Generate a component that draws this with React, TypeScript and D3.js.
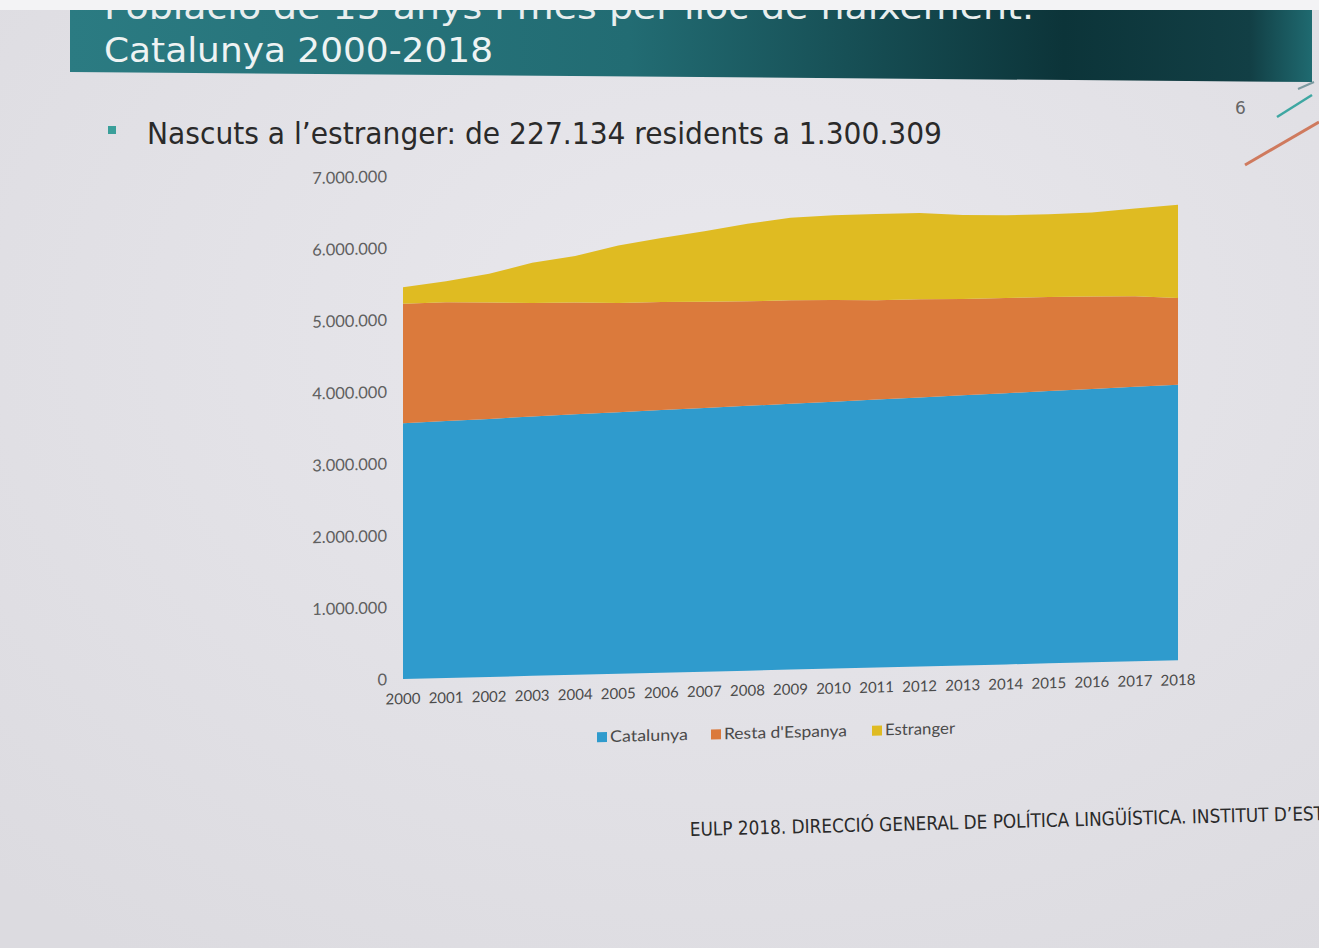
import React from 'react';
import * as d3 from 'd3';

const years = [2000, 2001, 2002, 2003, 2004, 2005, 2006, 2007, 2008, 2009, 2010, 2011, 2012, 2013, 2014, 2015, 2016, 2017, 2018];
const catalunya = [3560000, 3575000, 3590000, 3610000, 3625000, 3640000, 3655000, 3670000, 3685000, 3700000, 3715000, 3730000, 3745000, 3760000, 3775000, 3790000, 3805000, 3820000, 3835000];
const restaEspanya = [1663000, 1655000, 1620000, 1580000, 1555000, 1520000, 1505000, 1480000, 1455000, 1440000, 1415000, 1380000, 1365000, 1340000, 1325000, 1310000, 1285000, 1260000, 1205000];
const estranger = [227134, 290000, 400000, 560000, 650000, 800000, 890000, 980000, 1080000, 1150000, 1180000, 1200000, 1200000, 1170000, 1150000, 1150000, 1170000, 1220000, 1300309];
const seriesKeys = ['Catalunya', "Resta d'Espanya", 'Estranger'];
const seriesColors = ['#2f9bcd', '#db7a3c', '#dfbb22'];
const yTicks = [0, 1000000, 2000000, 3000000, 4000000, 5000000, 6000000, 7000000];

const titleTop = 'Població de 15 anys i més per lloc de naixement.';
const titleMain = 'Catalunya 2000-2018';
const bulletText = 'Nascuts a l\u2019estranger: de 227.134 residents a 1.300.309';
const footerText = 'EULP 2018. DIRECCIÓ GENERAL DE POLÍTICA LINGÜÍSTICA. INSTITUT D\u2019ESTADÍSTICA';

export default function App() {
  const W = 1319;
  const H = 948;
  const x = d3.scalePoint<string>().domain(years.map(String)).range([403, 1178]);
  const y = d3.scaleLinear().domain([0, 7000000]).range([679, 176]);
  const table = years.map((yr, i) => ({
    year: String(yr),
    Catalunya: catalunya[i],
    "Resta d'Espanya": restaEspanya[i],
    Estranger: estranger[i],
  }));
  const stacked = d3.stack<any>().keys(seriesKeys)(table);
  const area = d3
    .area<any>()
    .x((d) => x(d.data.year) as number)
    .y0((d) => y(d[0]))
    .y1((d) => y(d[1]));
  const fmt = (v: number) => d3.format(',')(v).replace(/,/g, '.');
  const k = 19 / 785;
  const skew = `matrix(1 ${-k} 0 1 0 ${k * 403})`;

  const slideFont = "'DejaVu Sans', sans-serif";
  const chartFont = "Lato, 'Open Sans', sans-serif";

  const legendItems = [
    { key: seriesKeys[0], x: 597, color: seriesColors[0], len: 78 },
    { key: seriesKeys[1], x: 711, color: seriesColors[1], len: 123 },
    { key: seriesKeys[2], x: 872, color: seriesColors[2], len: 70 },
  ];

  return (
    <svg width={W} height={H} style={{ position: 'absolute', left: 0, top: 0 }}>
      <defs>
        <linearGradient id="hdr" x1="0" x2="1" y1="0" y2="0">
          <stop offset="0" stopColor="#2b7b82" />
          <stop offset="0.45" stopColor="#226c73" />
          <stop offset="0.8" stopColor="#0c3439" />
          <stop offset="0.95" stopColor="#123f45" />
          <stop offset="1" stopColor="#1f6a70" />
        </linearGradient>
        <radialGradient id="paper" cx="0.55" cy="0.35" r="0.8">
          <stop offset="0" stopColor="#e9e8ed" />
          <stop offset="1" stopColor="#dcdbe0" />
        </radialGradient>
        <clipPath id="hdrClip">
          <polygon points="70,10 1312,10 1312,82 70,72" />
        </clipPath>
      </defs>
      <rect x={0} y={0} width={W} height={H} fill="url(#paper)" />
      <rect x={0} y={0} width={W} height={10} fill="#f3f3f5" />
      {/* header bar */}
      <polygon points="70,10 1312,10 1312,82 70,72" fill="url(#hdr)" />
      <g clipPath="url(#hdrClip)">
        <text x={104} y={19} fill="#e8eeee" fontFamily={slideFont} fontSize={34} textLength={930} lengthAdjust="spacingAndGlyphs">
          {titleTop}
        </text>
      </g>
      <text x={104} y={62} fill="#eef3f3" fontFamily={slideFont} fontSize={33} textLength={389} lengthAdjust="spacingAndGlyphs">
        {titleMain}
      </text>
      {/* decorations */}
      <line x1={1245} y1={165} x2={1319} y2={122} stroke="#cf7a5e" strokeWidth={3} />
      <line x1={1277} y1={117} x2={1312} y2={95} stroke="#3ea7a2" strokeWidth={2.5} />
      <line x1={1298} y1={89} x2={1314} y2={82} stroke="#7b9aa0" strokeWidth={2} />
      <text x={1235} y={114} fill="#666" fontFamily={slideFont} fontSize={17}>6</text>
      {/* bullet */}
      <rect x={108} y={126} width={8} height={8} fill="#3a9f9a" />
      <text x={147} y={144} fill="#2a2a2a" fontFamily={slideFont} fontSize={30} textLength={795} lengthAdjust="spacingAndGlyphs">
        {bulletText}
      </text>
      {/* chart */}
      <g transform={skew}>
        {stacked.map((s, i) => (
          <path key={s.key} d={area(s as any) as string} fill={seriesColors[i]} />
        ))}
        {yTicks.map((t) => (
          <text key={t} x={387} y={y(t)} dy="0.35em" textAnchor="end" fill="#5f5f5f" fontFamily={chartFont} fontSize={16.5}>
            {fmt(t)}
          </text>
        ))}
        {years.map((yr) => (
          <text key={yr} x={x(String(yr)) as number} y={704} textAnchor="middle" fill="#4a4a4a" fontFamily={chartFont} fontSize={15}>
            {yr}
          </text>
        ))}
        {legendItems.map((it) => (
          <g key={it.key}>
            <rect x={it.x} y={737} width={10} height={10} fill={it.color} />
            <text x={it.x + 13} y={747} fill="#4a4a4a" fontFamily={chartFont} fontSize={16} textLength={it.len} lengthAdjust="spacingAndGlyphs">
              {it.key}
            </text>
          </g>
        ))}
      </g>
      {/* footer */}
      <text
        x={690}
        y={836}
        transform="rotate(-1.45 690 836)"
        fill="#2a2a2a"
        fontFamily={slideFont}
        fontSize={19}
        textLength={712}
        lengthAdjust="spacingAndGlyphs"
      >
        {footerText}
      </text>
    </svg>
  );
}
